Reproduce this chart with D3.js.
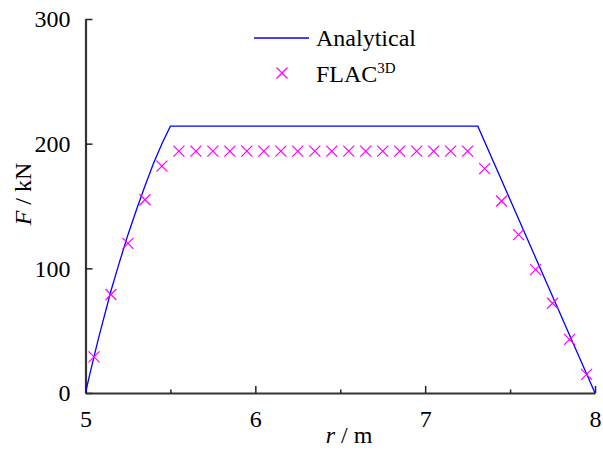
<!DOCTYPE html>
<html>
<head>
<meta charset="utf-8">
<script src="https://cdn.jsdelivr.net/npm/d3@7"></script>
<style>
  body { margin: 0; background: #fff; }
  svg text { font-family: "Liberation Serif", "Times New Roman", serif; fill: #000; }
</style>
</head>
<body>
<div class="chart"></div>
<script>
// analytical solution (line)
var analyticR = [5.0, 5.025, 5.05, 5.075, 5.1, 5.15, 5.2, 5.25, 5.3, 5.35, 5.4, 5.45, 5.5, 7.31, 8.0];
var analyticF = [0, 15, 29, 43, 56, 82, 105, 127, 147, 166, 184, 200, 214, 214, 0];

// FLAC3D results (crosses)
var flacR = [5.05, 5.15, 5.25, 5.35, 5.45, 5.55, 5.65, 5.75, 5.85, 5.95, 6.05, 6.15, 6.25, 6.35, 6.45,
  6.55, 6.65, 6.75, 6.85, 6.95, 7.05, 7.15, 7.25, 7.35, 7.45, 7.55, 7.65, 7.75, 7.85, 7.95];
var flacF = [29, 79, 120, 155, 182, 194, 194, 194, 194, 194, 194, 194, 194, 194, 194,
  194, 194, 194, 194, 194, 194, 194, 194, 180, 154, 127, 99, 72, 43, 15];

var xTicks = [5, 6, 7, 8];
var xMinorTicks = [5.5, 6.5, 7.5];
var yTicks = [0, 100, 200, 300];

var svgWidth = 603, svgHeight = 452;
var serif = "Liberation Serif, Times New Roman, serif";

var svg = d3.select(".chart")
  .append("svg")
  .attr("width", svgWidth)
  .attr("height", svgHeight);

var x = d3.scaleLinear().domain([5, 8]).range([85.5, 595]);
var y = d3.scaleLinear().domain([0, 300]).range([393, 19]);

// y axis
svg.append("g")
  .attr("class", "axis")
  .attr("transform", "translate(85.5,0)")
  .call(d3.axisLeft(y).tickValues(yTicks).tickSizeInner(-7).tickSizeOuter(0).tickPadding(15).tickFormat(d3.format("d")));

// x axis
svg.append("g")
  .attr("class", "axis")
  .attr("transform", "translate(0,393)")
  .call(d3.axisBottom(x).tickValues(xTicks).tickSizeInner(-7).tickSizeOuter(0).tickPadding(17).tickFormat(d3.format("d")));

svg.append("g")
  .attr("transform", "translate(0,393)")
  .call(d3.axisBottom(x).tickValues(xMinorTicks).tickSizeInner(-3.5).tickSizeOuter(0).tickFormat(""))
  .select(".domain").remove();

svg.selectAll(".axis")
  .attr("font-family", serif)
  .attr("font-size", 24);
svg.selectAll(".domain").attr("stroke", "#333").attr("stroke-width", 2.2);
svg.selectAll(".tick line").attr("stroke", "#222").attr("stroke-width", 1.5);
svg.selectAll(".tick text")
  .attr("font-family", serif)
  .attr("font-size", 24)
  .attr("fill", "#000");

// analytical line
var line = d3.line()
  .x(function(d, i) { return x(analyticR[i]); })
  .y(function(d, i) { return y(analyticF[i]); });

svg.append("path")
  .attr("d", line(analyticF))
  .attr("fill", "none")
  .attr("stroke", "#0000ff")
  .attr("stroke-width", 1.3);

// FLAC3D crosses
var s = 5.5;
function cross(cx, cy) {
  return "M" + (cx - s) + "," + (cy - s) + "L" + (cx + s) + "," + (cy + s) +
    "M" + (cx - s) + "," + (cy + s) + "L" + (cx + s) + "," + (cy - s);
}

svg.append("g").selectAll("path")
  .data(flacF)
  .enter().append("path")
    .attr("d", function(d, i) { return cross(x(flacR[i]), y(d)); })
    .attr("fill", "none")
    .attr("stroke", "#ff00ff")
    .attr("stroke-width", 1.2);

// legend
var legend = svg.append("g");
legend.append("line")
  .attr("x1", 254).attr("x2", 309)
  .attr("y1", 38).attr("y2", 38)
  .attr("stroke", "#0000ff").attr("stroke-width", 1.3);
legend.append("text")
  .attr("x", 316).attr("y", 46)
  .attr("font-size", 24)
  .text("Analytical");
legend.append("path")
  .attr("d", cross(282, 73))
  .attr("fill", "none")
  .attr("stroke", "#ff00ff")
  .attr("stroke-width", 1.2);
var flacText = legend.append("text")
  .attr("x", 316).attr("y", 82)
  .attr("font-size", 24);
flacText.append("tspan").text("FLAC");
flacText.append("tspan").attr("font-size", 15).attr("dy", -9).text("3D");

// axis titles
var yTitle = svg.append("text")
  .attr("transform", "translate(31,194) rotate(-90)")
  .attr("text-anchor", "middle")
  .attr("font-size", 24);
yTitle.append("tspan").attr("font-style", "italic").text("F");
yTitle.append("tspan").text(" / kN");

var xTitle = svg.append("text")
  .attr("x", 349).attr("y", 443)
  .attr("text-anchor", "middle")
  .attr("font-size", 24);
xTitle.append("tspan").attr("font-style", "italic").text("r");
xTitle.append("tspan").text(" / m");
</script>
</body>
</html>
